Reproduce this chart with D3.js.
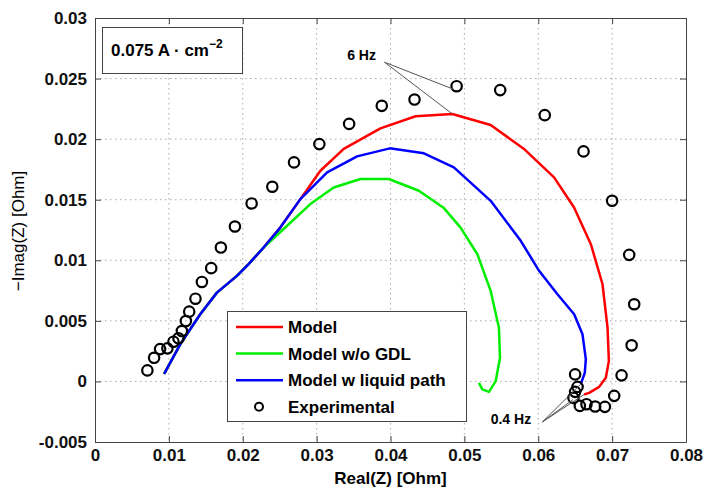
<!DOCTYPE html>
<html lang="en">
<head>
<meta charset="UTF-8">
<title>Nyquist plot</title>
<script src="https://d3js.org/d3.v7.min.js"></script>
<style>
    body { margin: 0; background: #fff; }
    svg { display: block; font-family: "Liberation Sans", Arial, sans-serif; }
    .tick-label { font-size: 17px; font-weight: bold; fill: #111; }
</style>
</head>
<body>
<svg width="706" height="488"></svg>
<script>
// tick values
const xTicks = [0, 0.01, 0.02, 0.03, 0.04, 0.05, 0.06, 0.07, 0.08];
const yTicks = [-0.005, 0, 0.005, 0.01, 0.015, 0.02, 0.025, 0.03];

// experimental points [Re, -Im]
const experimental = [
    [0.00709, 0.00091], [0.0080, 0.00195], [0.00881, 0.00267], [0.0098, 0.00273],
    [0.01062, 0.00328], [0.0113, 0.00356], [0.01176, 0.00416], [0.0123, 0.00499],
    [0.01275, 0.00576], [0.0136, 0.00683], [0.01447, 0.00821], [0.01573, 0.00935],
    [0.01704, 0.01105], [0.01894, 0.01279], [0.0212, 0.01469], [0.024, 0.01607],
    [0.02694, 0.01808], [0.03037, 0.01959], [0.0344, 0.02126], [0.03882, 0.02275],
    [0.04325, 0.02327], [0.04895, 0.02437], [0.05485, 0.02405], [0.06088, 0.02198],
    [0.06613, 0.01899], [0.0700, 0.01491], [0.07231, 0.01045], [0.07299, 0.00637],
    [0.07264, 0.00298], [0.07128, 0.0005], [0.07028, -0.00119], [0.06902, -0.0021],
    [0.0677, -0.00207], [0.06653, -0.00188], [0.06563, -0.00202], [0.06477, -0.00136],
    [0.06499, -0.00086], [0.06532, -0.00045], [0.06499, 0.00058]
];

// model (red)
const model = [
    [0.00936, 0.00063], [0.01153, 0.00306], [0.01424, 0.00554], [0.0165, 0.00733],
    [0.01921, 0.00871], [0.02079, 0.00968], [0.02282, 0.01105], [0.02508, 0.0127],
    [0.0278, 0.01505], [0.03051, 0.01739], [0.03367, 0.01919], [0.03864, 0.02089],
    [0.04339, 0.02189], [0.04837, 0.02208], [0.05356, 0.02117], [0.05803, 0.01921],
    [0.06214, 0.01684], [0.06485, 0.01436], [0.06712, 0.01133], [0.0687, 0.00802],
    [0.06938, 0.00443], [0.06956, 0.00168], [0.06915, 0.0003], [0.06824, -0.00045],
    [0.06689, -0.00094], [0.06621, -0.00108]
];

// model w/o GDL (green)
const modelNoGdl = [
    [0.00936, 0.00063], [0.01153, 0.00306], [0.01424, 0.00554], [0.0165, 0.00733],
    [0.01921, 0.00871], [0.02079, 0.00968], [0.02282, 0.01105], [0.026, 0.01285],
    [0.02915, 0.01464], [0.03231, 0.01601], [0.03593, 0.01671], [0.03977, 0.01671],
    [0.04384, 0.01574], [0.04723, 0.01431], [0.04949, 0.0127], [0.05176, 0.0105],
    [0.05356, 0.00747], [0.05468, 0.00443], [0.05482, 0.00195], [0.05424, 0.00002],
    [0.05333, -0.00086], [0.05243, -0.00066], [0.05197, -0.00012]
];

// model w liquid path (blue)
const modelLiquid = [
    [0.00936, 0.00063], [0.01153, 0.00306], [0.01424, 0.00554], [0.0165, 0.00733],
    [0.01921, 0.00871], [0.02079, 0.00968], [0.02282, 0.01105], [0.02508, 0.0127],
    [0.0278, 0.01505], [0.03142, 0.01725], [0.03548, 0.01858], [0.0399, 0.01924],
    [0.04452, 0.01883], [0.04858, 0.01767], [0.05356, 0.01491], [0.05763, 0.01161],
    [0.06011, 0.00913], [0.0626, 0.0072], [0.06486, 0.00554], [0.06599, 0.00389],
    [0.06644, 0.00184], [0.0663, 0.00071], [0.06576, -0.00022]
];

const seriesNames = ["Model", "Model w/o GDL", "Model w liquid path", "Experimental"];
const seriesColors = ["#ff0000", "#00ee00", "#0000ff", "#000"];

const svg = d3.select("svg");
const margin = { left: 95, right: 20, top: 18, bottom: 46 };
const width = 706, height = 488;

const x = d3.scaleLinear().domain([0, 0.08]).range([margin.left, width - margin.right]);
const y = d3.scaleLinear().domain([-0.005, 0.03]).range([height - margin.bottom, margin.top]);

const fmt = d => d === 0 ? "0" : String(d);

// grid
const grid = svg.append("g").attr("stroke", "#aaa").attr("stroke-width", 1).attr("stroke-dasharray", "1.5,3.5");
grid.selectAll(".gx").data(xTicks.slice(1, -1)).join("line")
    .attr("x1", d => x(d)).attr("x2", d => x(d))
    .attr("y1", y.range()[1]).attr("y2", y.range()[0]);
grid.selectAll(".gy").data(yTicks.slice(1, -1)).join("line")
    .attr("y1", d => y(d)).attr("y2", d => y(d))
    .attr("x1", x.range()[0]).attr("x2", x.range()[1]);

// axes (ticks inward, box all round)
const axisColor = "#444";
const tl = 6;
svg.append("g").attr("transform", `translate(0,${y.range()[0]})`)
    .call(d3.axisBottom(x).tickValues(xTicks).tickFormat(fmt).tickSizeInner(-tl).tickSizeOuter(0).tickPadding(7))
    .call(g => g.selectAll("text").attr("class", "tick-label"));
svg.append("g").attr("transform", `translate(0,${y.range()[1]})`)
    .call(d3.axisTop(x).tickValues(xTicks).tickFormat("").tickSizeInner(-tl).tickSizeOuter(0));
svg.append("g").attr("transform", `translate(${x.range()[0]},0)`)
    .call(d3.axisLeft(y).tickValues(yTicks).tickFormat(fmt).tickSizeInner(-tl).tickSizeOuter(0).tickPadding(8))
    .call(g => g.selectAll("text").attr("class", "tick-label"));
svg.append("g").attr("transform", `translate(${x.range()[1]},0)`)
    .call(d3.axisRight(y).tickValues(yTicks).tickFormat("").tickSizeInner(-tl).tickSizeOuter(0));
svg.selectAll(".domain").attr("stroke", axisColor);
svg.selectAll(".tick line").attr("stroke", axisColor);

// axis labels
svg.append("text")
    .attr("x", (x.range()[0] + x.range()[1]) / 2).attr("y", 484)
    .attr("text-anchor", "middle").attr("font-size", 17).attr("font-weight", "bold")
    .text("Real(Z) [Ohm]");
svg.append("text")
    .attr("transform", "translate(24,231) rotate(-90)")
    .attr("text-anchor", "middle").attr("font-size", 17)
    .text("\u2212Imag(Z) [Ohm]");

// curves
const line = d3.line().x(d => x(d[0])).y(d => y(d[1]));
[model, modelNoGdl, modelLiquid].forEach((s, i) => {
    svg.append("path").datum(s).attr("d", line)
        .attr("fill", "none").attr("stroke", seriesColors[i]).attr("stroke-width", 2.5)
        .attr("stroke-linejoin", "round");
});

// experimental circles
svg.append("g").selectAll("circle").data(experimental).join("circle")
    .attr("cx", d => x(d[0])).attr("cy", d => y(d[1])).attr("r", 5.2)
    .attr("fill", "none").attr("stroke", "#000").attr("stroke-width", 2.2);

// frequency annotations
const annot = svg.append("g").attr("stroke", "#555").attr("stroke-width", 1);
const hz6 = [0.03919, 0.02635];
[[0.04860, 0.02410], [0.04837, 0.02208]].forEach(p => {
    annot.append("line").attr("x1", x(hz6[0])).attr("y1", y(hz6[1])).attr("x2", x(p[0])).attr("y2", y(p[1]));
});
const hz04 = [0.06057, -0.00334];
[[0.06470, -0.00150], [0.06576, -0.00022], [0.06621, -0.00108]].forEach(p => {
    annot.append("line").attr("x1", x(hz04[0])).attr("y1", y(hz04[1])).attr("x2", x(p[0])).attr("y2", y(p[1]));
});
svg.append("text").attr("x", x(0.03413)).attr("y", y(0.02652))
    .attr("font-size", 14).attr("font-weight", "bold").text("6 Hz");
svg.append("text").attr("x", x(0.05356)).attr("y", y(-0.00354))
    .attr("font-size", 14).attr("font-weight", "bold").text("0.4 Hz");

// current density box
svg.append("rect").attr("x", 102.5).attr("y", 27.5).attr("width", 140).attr("height", 46)
    .attr("fill", "#fff").attr("stroke", axisColor);
const cd = svg.append("text").attr("x", 111).attr("y", 56)
    .attr("font-size", 17).attr("font-weight", "bold");
cd.append("tspan").text("0.075 A \u00b7 cm");
cd.append("tspan").attr("dy", -8).attr("font-size", 12).text("\u22122");

// legend
const lg = svg.append("g").attr("transform", "translate(227,311)");
lg.append("rect").attr("x", 0.5).attr("y", 0.5).attr("width", 239).attr("height", 110)
    .attr("fill", "#fff").attr("stroke", axisColor);
seriesNames.forEach((name, i) => {
    const cy = 16 + i * 26.6;
    if (i < 3) {
        lg.append("line").attr("x1", 9).attr("x2", 56).attr("y1", cy).attr("y2", cy)
            .attr("stroke", seriesColors[i]).attr("stroke-width", 2.5);
    } else {
        lg.append("circle").attr("cx", 32).attr("cy", cy).attr("r", 4)
            .attr("fill", "none").attr("stroke", "#000").attr("stroke-width", 2);
    }
    lg.append("text").attr("x", 61).attr("y", cy + 6)
        .attr("font-size", 17).attr("font-weight", "bold").text(name);
});
</script>
</body>
</html>
